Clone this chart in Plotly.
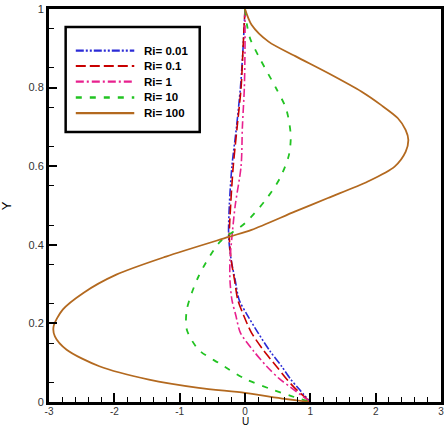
import plotly.graph_objects as go

# ---- data ----
series_names = ["Ri= 0.01", "Ri= 0.1", "Ri= 1", "Ri= 10", "Ri= 100"]

y_small = [1.0, 0.9, 0.8, 0.7, 0.6, 0.5, 0.42, 0.36, 0.31, 0.26, 0.22, 0.176, 0.13, 0.091, 0.06, 0.036, 0.0]
u_ri001 = [0.0, -0.03, -0.07, -0.13, -0.20, -0.24, -0.25, -0.21, -0.15, -0.09, 0.04, 0.20, 0.38, 0.56, 0.69, 0.81, 1.0]
u_ri01 = [0.0, -0.03, -0.06, -0.12, -0.18, -0.22, -0.24, -0.21, -0.16, -0.11, -0.02, 0.10, 0.29, 0.48, 0.63, 0.76, 1.0]
u_ri1 = [0.0, 0.0, -0.01, -0.04, -0.06, -0.15, -0.20, -0.23, -0.23, -0.20, -0.14, -0.07, 0.13, 0.33, 0.52, 0.71, 1.0]

y_ri10 = [1.0, 0.96, 0.924, 0.873, 0.797, 0.746, 0.678, 0.627, 0.568, 0.513, 0.455, 0.408, 0.32, 0.235, 0.184, 0.133, 0.099, 0.059, 0.032, 0.015, 0.0]
u_ri10 = [0.0, 0.03, 0.08, 0.23, 0.48, 0.63, 0.70, 0.67, 0.53, 0.31, 0.0, -0.38, -0.71, -0.89, -0.89, -0.71, -0.40, 0.0, 0.41, 0.71, 1.0]

y_ri100 = [1.0, 0.96, 0.917, 0.880, 0.837, 0.790, 0.756, 0.722, 0.692, 0.667, 0.637, 0.599, 0.561, 0.519, 0.485,
           0.438, 0.42, 0.37, 0.324, 0.277, 0.235, 0.192, 0.167, 0.133, 0.091, 0.057, 0.036, 0.023, 0.008, 0.0]
u_ri100 = [0.0, 0.10, 0.36, 0.77, 1.27, 1.78, 2.08, 2.34, 2.46, 2.50, 2.46, 2.29, 1.88, 1.27, 0.77,
           0.10, -0.25, -1.21, -1.97, -2.48, -2.79, -2.93, -2.91, -2.73, -2.23, -1.47, -0.71, 0.0, 0.61, 1.0]

x_ticks = [-3, -2, -1, 0, 1, 2, 3]
y_ticks = [0, 0.2, 0.4, 0.6, 0.8, 1]

colors = ["#2b2bd6", "#c80000", "#e8208e", "#22c322", "#b3691f"]
dashes = ["8px,2px,2px,2px,2px,2px", "10px,4px", "8px,3px,2px,3px", "6px,8px", "solid"]
widths = [1.6, 1.6, 1.6, 1.8, 1.8]

curves = [(u_ri001, y_small), (u_ri01, y_small), (u_ri1, y_small), (u_ri10, y_ri10), (u_ri100, y_ri100)]

fig = go.Figure()
for (u, y), name, c, d, w in zip(curves, series_names, colors, dashes, widths):
    fig.add_trace(go.Scatter(x=u, y=y, mode="lines", name=name,
                             line=dict(color=c, dash=d, width=w, shape="spline", smoothing=0.8),
                             showlegend=False))

# ---- manual legend box (data coordinates) ----
shapes = [dict(type="rect", xref="x", yref="y", x0=-2.745, x1=-0.693, y0=0.687, y1=0.954,
               line=dict(color="black", width=2.5), fillcolor="white", layer="below")]
row_y = [0.894, 0.855, 0.815, 0.775, 0.735]
annotations = []
for name, c, d, w, ry in zip(series_names, colors, dashes, widths, row_y):
    shapes.append(dict(type="line", xref="x", yref="y", x0=-2.59, x1=-1.695, y0=ry, y1=ry,
                       line=dict(color=c, dash=d, width=w + 0.6)))
    annotations.append(dict(x=-1.57, y=ry, xref="x", yref="y", text="<b>" + name + "</b>",
                            showarrow=False, xanchor="left", yanchor="middle",
                            font=dict(family="Liberation Sans, Arial", size=11.5, color="black")))

annotations.append(dict(x=0.5, y=-0.0655, xref="paper", yref="paper", text="U", showarrow=False,
                        xanchor="center", yanchor="bottom", borderpad=0,
                        font=dict(family="Liberation Sans, Arial", size=10, color="black")))
annotations.append(dict(x=-0.108, y=0.5, xref="paper", yref="paper", text="Y", showarrow=False,
                        textangle=-90, xanchor="center", yanchor="middle",
                        font=dict(family="Liberation Sans, Arial", size=13, color="black")))

axis_common = dict(showline=True, linecolor="black", linewidth=3, mirror=True,
                   ticks="inside", tickcolor="black", tickwidth=2, showgrid=False, zeroline=False)

fig.update_layout(
    width=447, height=428,
    margin=dict(l=49, r=3, t=9, b=26),
    paper_bgcolor="white", plot_bgcolor="white",
    shapes=shapes, annotations=annotations,
    xaxis=dict(range=[-3, 3], tickvals=x_ticks, ticktext=[str(v) for v in x_ticks], ticklen=9,
               ticklabelstandoff=-2,
               tickfont=dict(family="Liberation Sans, Arial", size=10, color="#333333"),
               minor=dict(ticks="inside", dtick=0.2, tick0=0, ticklen=5, tickwidth=1, tickcolor="black"),
               **axis_common),
    yaxis=dict(range=[0, 1], tickvals=y_ticks, ticktext=["0", "0.2", "0.4", "0.6", "0.8", "1"], ticklen=8,
               tickfont=dict(family="Liberation Sans, Arial", size=11, color="#333333"),
               minor=dict(ticks="inside", tickvals=[0.05, 0.15, 0.25, 0.35, 0.45, 0.55, 0.65, 0.75, 0.85, 0.95],
                          ticklen=5, tickwidth=1, tickcolor="black"),
               **axis_common),
)

fig.write_html("out.html")
